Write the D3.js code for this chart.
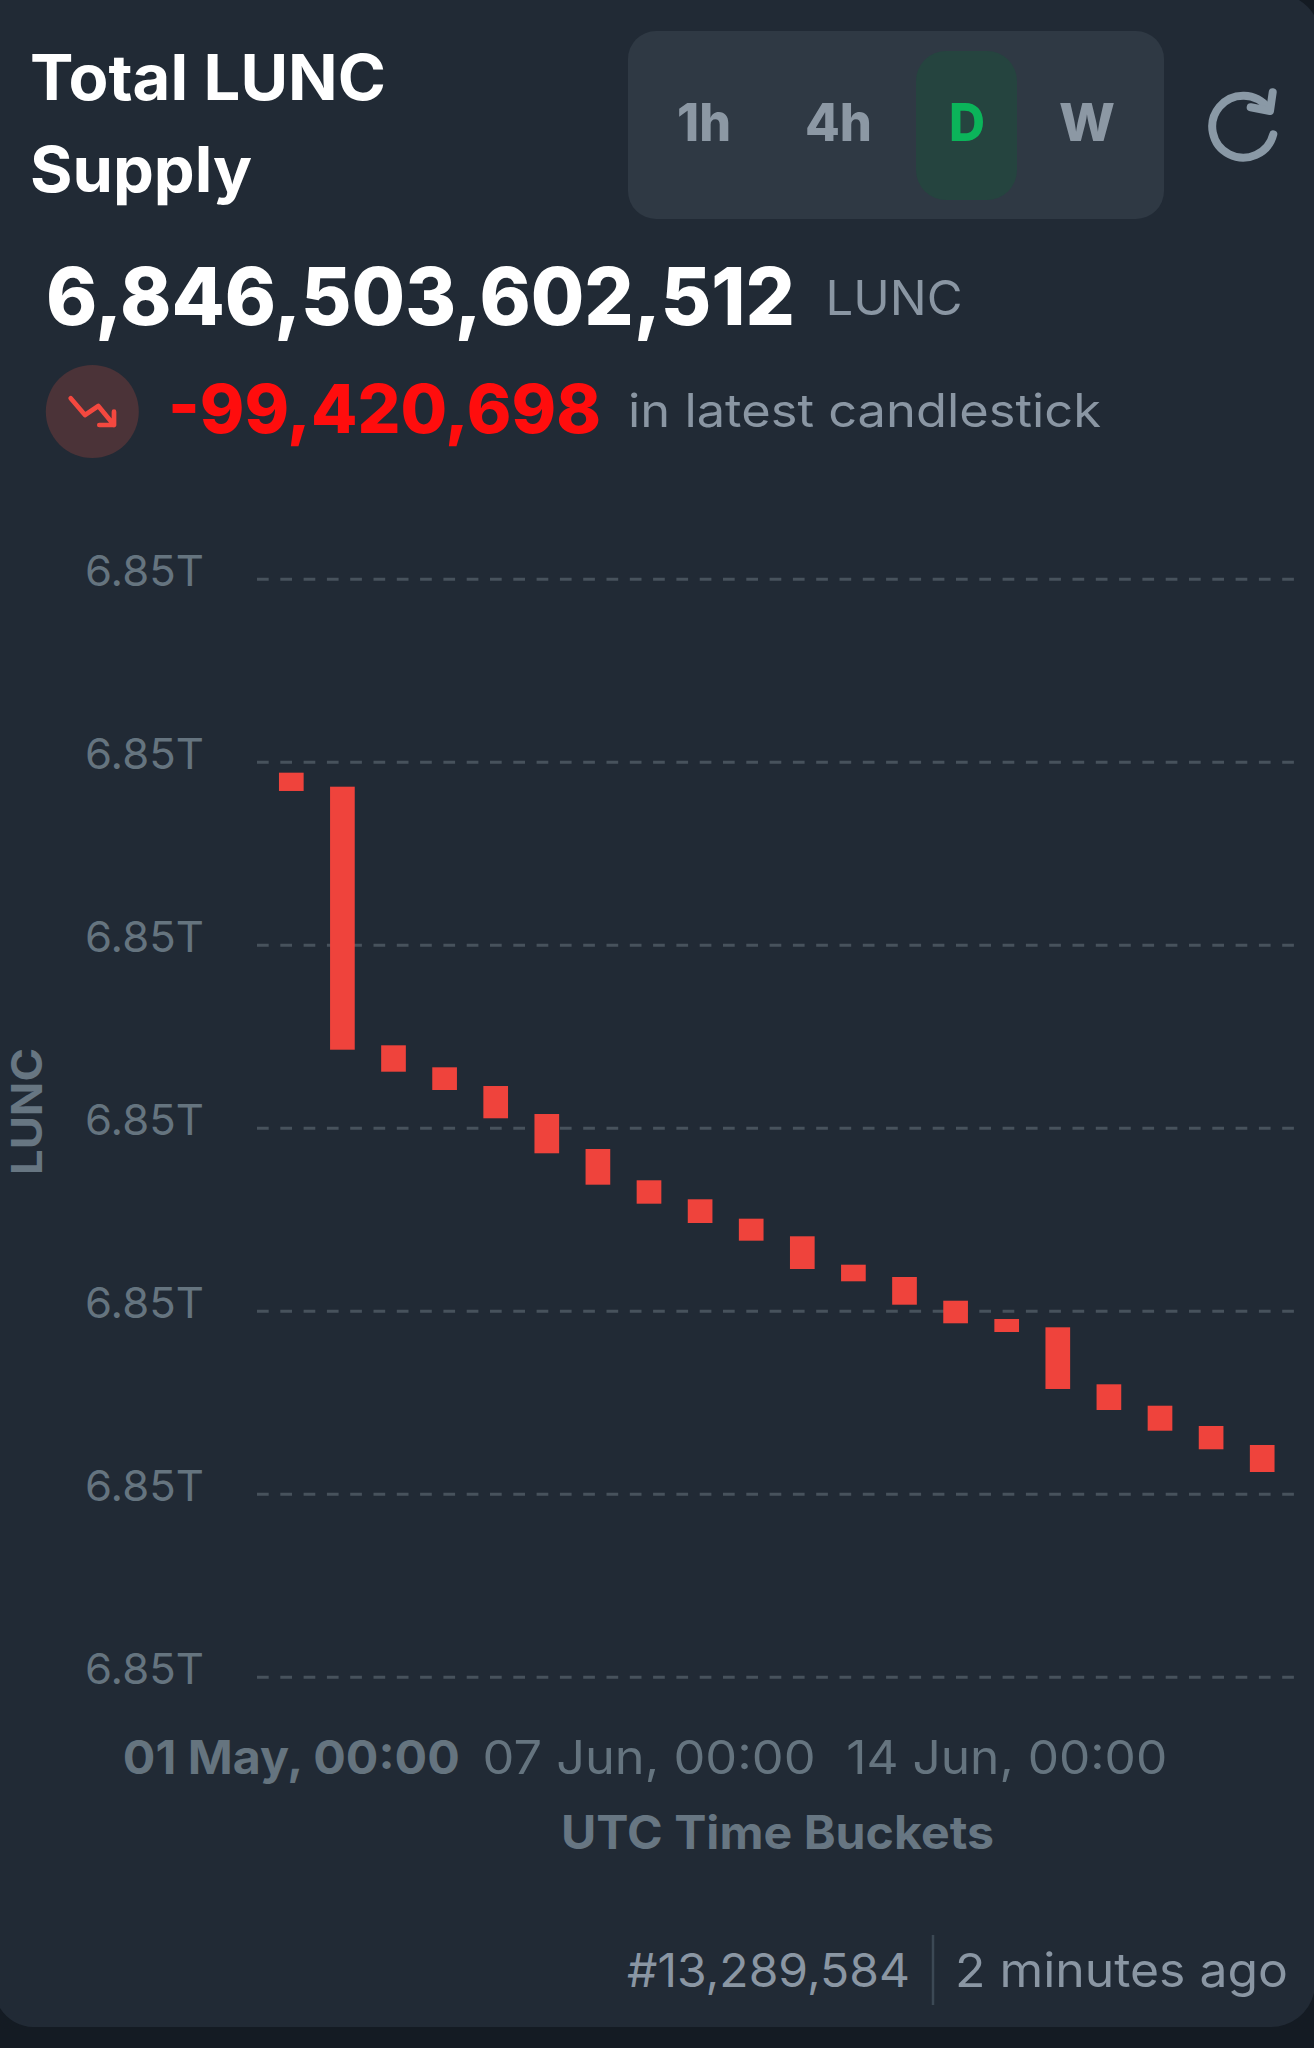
<!DOCTYPE html>
<html><head><meta charset="utf-8">
<script src="https://cdnjs.cloudflare.com/ajax/libs/d3/7.8.5/d3.min.js"></script>
<style>html,body{margin:0;padding:0;background:#141b23}svg{display:block}text{font-family:Inter,"Noto Sans",sans-serif}</style>
</head><body><div id="c"></div>
<script>
// values in billions of LUNC
const categories = ["01 May, 00:00","01 Jun, 00:00","02 Jun, 00:00","03 Jun, 00:00","04 Jun, 00:00","05 Jun, 00:00","06 Jun, 00:00","07 Jun, 00:00","08 Jun, 00:00","09 Jun, 00:00","10 Jun, 00:00","11 Jun, 00:00","12 Jun, 00:00","13 Jun, 00:00","14 Jun, 00:00","15 Jun, 00:00","16 Jun, 00:00","17 Jun, 00:00","18 Jun, 00:00","19 Jun, 00:00"];
const opens  = [6848.4150,6848.3767,6847.6701,6847.6100,6847.5589,6847.4824,6847.3868,6847.3013,6847.2494,6847.1964,6847.1483,6847.0707,6847.0371,6846.9723,6846.9223,6846.8996,6846.7439,6846.6854,6846.6300,6846.5781];
const closes = [6848.3650,6847.6581,6847.5980,6847.5480,6847.4707,6847.3751,6847.2893,6847.2374,6847.1846,6847.1363,6847.0589,6847.0253,6846.9614,6846.9106,6846.8868,6846.7311,6846.6737,6846.6171,6846.5663,6846.5043];
const yTickValues = [6845.945,6846.445,6846.945,6847.445,6847.945,6848.445,6848.945];
const xTickLabels = ["01 May, 00:00","07 Jun, 00:00","14 Jun, 00:00"];
const intervals = ["1h","4h","D","W"];

const W=1314,H=2048;
const svg=d3.select("#c").append("svg").attr("width",W).attr("height",H).attr("viewBox",`0 0 ${W} ${H}`);
const C={card:"#212a35",page:"#141b23",muted:"#8a96a3",axis:"#677682",tick:"#65747f",grid:"#47525c",bar:"#ef433c"};

function T(s,x,y,size,weight,fill,len,parent){
  return (parent||svg).append("text").attr("x",x).attr("y",y).attr("font-size",size).attr("font-weight",weight)
    .attr("fill",fill).attr("textLength",len).attr("lengthAdjust","spacingAndGlyphs").text(s);
}
// card
svg.append("path").attr("d","M0 0H1299A45 45 0 0 1 1314 15V1993A44 44 0 0 1 1270 2027H33A40 40 0 0 1 0 2008Z").attr("fill",C.card);

// header
T("Total LUNC",30,100,63,700,"#fff",356);
T("Supply",30,192,63,700,"#fff",222);
svg.append("rect").attr("x",628).attr("y",31).attr("width",536).attr("height",188).attr("rx",28).attr("fill","#2f3944");
svg.append("rect").attr("x",916).attr("y",51).attr("width",101).attr("height",149).attr("rx",30).attr("fill","#25443f");
const btnX=[677,805,949,1059],btnW=[54,67,36,56];
intervals.forEach((s,i)=>T(s,btnX[i],141,52,800,s==="D"?"#0bb45a":"#8c98a4",btnW[i]));
// refresh icon
svg.append("path").attr("d","M1273.3 134.3 A31 31 0 1 1 1268 108").attr("fill","none").attr("stroke","#8a99a6").attr("stroke-width",8).attr("stroke-linecap","round");
svg.append("path").attr("d","M1272.7 92.3 L1270 111 L1250.7 107.3").attr("fill","none").attr("stroke","#8a99a6").attr("stroke-width",8).attr("stroke-linecap","round").attr("stroke-linejoin","round");

T("6,846,503,602,512",46,325,80,800,"#fff",749);
T("LUNC",825.5,315,48,400,C.muted,137);
svg.append("circle").attr("cx",92.3).attr("cy",411.5).attr("r",46.5).attr("fill","#4b3338");
svg.append("path").attr("d","M70.7 398.3 L85 415 L98.3 406 L114 425 M114 411.7 V425 H99.3").attr("fill","none").attr("stroke","#f4483f").attr("stroke-width",4.7).attr("stroke-linecap","round").attr("stroke-linejoin","round");
T("-99,420,698",168,433,68,800,"#ff0d0d",433);
T("in latest candlestick",628,427,46,400,C.muted,473);

// scales
const y=d3.scaleLinear().domain([6845.945,6848.945]).range([1676.7,578.7]);
const x=d3.scaleBand().domain(categories).range([265.75,1287.75]).paddingInner(0.517).paddingOuter(0.2585);

// y axis + grid
const gy=svg.append("g").attr("transform","translate(257,0)")
  .call(d3.axisLeft(y).tickValues(yTickValues).tickSize(0).tickPadding(53).tickFormat(d=>d3.format(".3s")(d*1e9)));
gy.select(".domain").remove();
gy.selectAll("text").attr("font-size",43).attr("font-weight",400).attr("fill",C.tick).attr("dy",0).attr("y",6.5).attr("textLength",119).attr("lengthAdjust","spacingAndGlyphs");
gy.selectAll(".tick").append("line").attr("x1",0).attr("x2",1038).attr("stroke",C.grid).attr("stroke-width",3).attr("stroke-dasharray","11.7 11.6");

// bars
svg.append("g").selectAll("rect").data(categories).join("rect")
  .attr("x",d=>x(d)).attr("width",x.bandwidth())
  .attr("y",(d,i)=>y(Math.max(opens[i],closes[i])))
  .attr("height",(d,i)=>Math.abs(y(opens[i])-y(closes[i])))
  .attr("fill",C.bar);

// x axis
const gx=svg.append("g").attr("transform","translate(0,1774)")
  .call(d3.axisBottom(x).tickValues(xTickLabels).tickSize(0).tickPadding(0));
gx.select(".domain").remove();
gx.selectAll("text").attr("y",0).attr("dy",0).attr("font-size",47)
  .attr("font-weight",(d,i)=>i===0?700:400).attr("fill",C.tick)
  .attr("textLength",(d,i)=>i===0?337:i===1?333:321).attr("lengthAdjust","spacingAndGlyphs");

T("UTC Time Buckets",561,1849,46,700,C.axis,433);
T("LUNC",0,0,42,700,C.axis,127).attr("transform","translate(42,1175) rotate(-90)");

// footer
T("#13,289,584",627,1987,47,400,C.muted,283);
svg.append("line").attr("x1",933).attr("x2",933).attr("y1",1935).attr("y2",2005).attr("stroke","#3c4955").attr("stroke-width",2.5);
T("2 minutes ago",955,1987,47,400,C.muted,333);
</script></body></html>
